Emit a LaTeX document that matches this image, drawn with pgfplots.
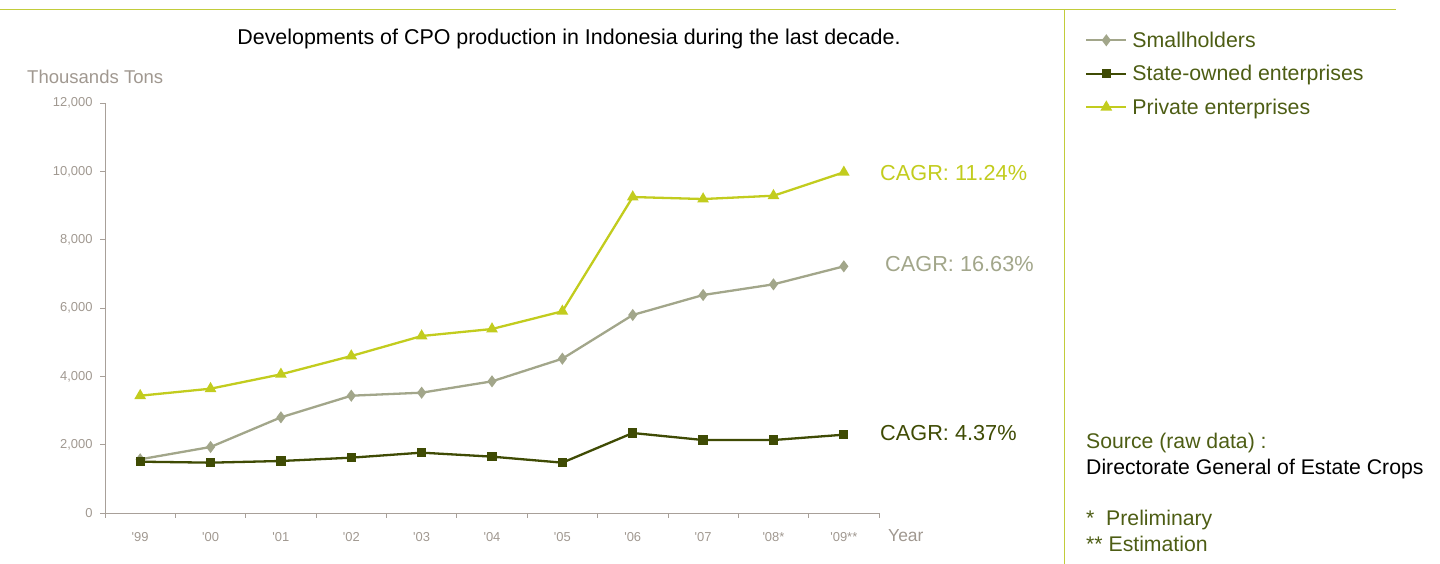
\documentclass[border=0pt]{standalone}
\usepackage{pgfplots}
\pgfplotsset{compat=1.18}
\usepackage{fontspec}
\setmainfont{Liberation Sans}[Ligatures=TeXOff]
\definecolor{privc}{HTML}{C2CC1E}
\definecolor{smallc}{HTML}{A2A68A}
\definecolor{statec}{HTML}{3F4B04}
\definecolor{axisgray}{HTML}{A8A099}
\definecolor{tickgray}{HTML}{A09890}
\definecolor{legtext}{HTML}{4D5D14}
\definecolor{framec}{HTML}{C2CC3A}
\newcommand{\fs}[1]{\fontsize{#1}{#1}\selectfont}
\begin{document}
\begin{tikzpicture}[x=1bp,y=1bp]
\path[use as bounding box] (0,0) rectangle (1440,564);
\draw[framec, line width=1bp] (0,554) -- (1396,554);
\draw[framec, line width=1bp] (1064,554) -- (1064,0);
\begin{axis}[
  at={(105bp,51bp)}, anchor=south west,
  scale only axis, width=774bp, height=410bp,
  xmin=0, xmax=11, ymin=0, ymax=12000,
  axis x line*=bottom, axis y line*=left,
  axis line style={color=axisgray, line width=0.8bp, -},
  tick style={color=axisgray, line width=0.8bp},
  tick align=outside, major tick length=5bp,
  xtick={0,...,11},
  x tick label as interval,
  xticklabels={'99,'00,'01,'02,'03,'04,'05,'06,'07,'08*,'09**},
  ytick={0,2000,...,12000},
  scaled y ticks=false,
  /pgf/number format/.cd, 1000 sep={,}, fixed, assume math mode=true,
  /pgfplots/.cd,
  xticklabel style={font=\fs{13}, color=tickgray, yshift=-11bp},
  yticklabel style={font=\fs{13}, color=tickgray, xshift=-4bp},
  clip=false,
  legend style={at={(1.2661,1.179)}, anchor=north west, draw=none, fill=none,
    font=\fs{21.4}, text=legtext, row sep=12.5bp, inner sep=0pt,
    cells={anchor=west}},
  legend image code/.code={\draw[mark repeat=2,mark phase=2] plot coordinates {(0bp,0bp) (20bp,0bp) (40bp,0bp)};},
  legend cell align=left,
]
\addplot[smallc, line width=2.3bp, mark=diamond*, mark size=4.2bp, mark options={solid}] coordinates {
(0.5,1571) (1.5,1932) (2.5,2800) (3.5,3433) (4.5,3521) (5.5,3853) (6.5,4516) (7.5,5795) (8.5,6380) (9.5,6692) (10.5,7219)};
\addlegendentry{\hspace{3bp}Smallholders}
\addplot[statec, line width=2.3bp, mark=square*, mark size=3.5bp] coordinates {
(0.5,1502) (1.5,1473) (2.5,1522) (3.5,1619) (4.5,1766) (5.5,1649) (6.5,1473) (7.5,2341) (8.5,2136) (9.5,2136) (10.5,2292)};
\addlegendentry{\hspace{3bp}State-owned enterprises}
\addplot[privc, line width=2.3bp, mark=triangle*, mark size=4.5bp] coordinates {
(0.5,3433) (1.5,3638) (2.5,4058) (3.5,4595) (4.5,5180) (5.5,5385) (6.5,5903) (7.5,9248) (8.5,9189) (9.5,9286) (10.5,9971)};
\addlegendentry{\hspace{3bp}Private enterprises}
\end{axis}
\node[anchor=center, font=\fs{21.5}] at (569,525) {Developments of CPO production in Indonesia during the last decade.};
\node[anchor=west, font=\fs{18.6}, text=tickgray, inner sep=0pt] at (27,487) {Thousands Tons};
\node[anchor=west, font=\fs{17.5}, text=tickgray, inner sep=0pt] at (888,28) {Year};
\node[anchor=west, font=\fs{21.8}, text=privc, inner sep=0pt] at (880,391) {CAGR: 11.24\%};
\node[anchor=west, font=\fs{21.8}, text=smallc, inner sep=0pt] at (885,300) {CAGR: 16.63\%};
\node[anchor=west, font=\fs{21.8}, text=statec, inner sep=0pt] at (880,131) {CAGR: 4.37\%};
\node[anchor=west, font=\fs{21.3}, text=legtext, inner sep=0pt] at (1086,121) {Source (raw data) :};
\node[anchor=west, font=\fs{21.3}, inner sep=0pt] at (1086,95) {Directorate General of Estate Crops};
\node[anchor=west, font=\fs{21.3}, text=legtext, inner sep=0pt] at (1086,44) {*\ \ Preliminary};
\node[anchor=west, font=\fs{21.3}, text=legtext, inner sep=0pt] at (1086,20) {** Estimation};
\end{tikzpicture}
\end{document}
